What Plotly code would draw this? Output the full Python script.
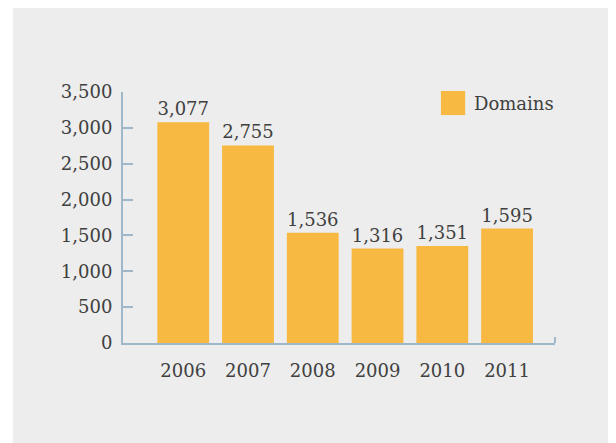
import plotly.graph_objects as go

BG_COLOR = "#ecedec"
BAR_COLOR = "#f7b942"
AXIS_COLOR = "#9fb8c9"
TEXT_COLOR = "#404040"
FONT = "DejaVu Serif"

years = ["2006", "2007", "2008", "2009", "2010", "2011"]
domains = [3077, 2755, 1536, 1316, 1351, 1595]
y_ticks = [0, 500, 1000, 1500, 2000, 2500, 3000, 3500]
series_name = "Domains"

fig = go.Figure()

fig.add_trace(
    go.Bar(
        x=years,
        y=domains,
        name=series_name,
        marker_color=BAR_COLOR,
        marker_line_width=0,
        texttemplate="%{y:,}",
        textposition="outside",
        textfont=dict(family=FONT, size=18, color=TEXT_COLOR),
        cliponaxis=False,
        showlegend=False,
    )
)

# page body has an 8px margin, so the figure is 8px smaller than the window
fig.update_layout(
    width=608,
    height=435,
    margin=dict(l=115, r=61, t=84, b=100),
    paper_bgcolor="white",
    plot_bgcolor="rgba(0, 0, 0, 0)",
    font=dict(family=FONT, size=18, color=TEXT_COLOR),
    bargap=0.2,
    showlegend=False,
    xaxis=dict(
        type="category",
        range=[-0.93, 5.74],
        showline=True,
        linecolor=AXIS_COLOR,
        linewidth=2,
        showgrid=False,
        ticks="",
        ticklabelstandoff=10,
        zeroline=False,
    ),
    yaxis=dict(
        range=[0, 3500],
        tickvals=y_ticks,
        tickformat=",",
        showline=True,
        linecolor=AXIS_COLOR,
        linewidth=2,
        ticks="inside",
        ticklen=10,
        tickwidth=2,
        tickcolor=AXIS_COLOR,
        showgrid=False,
        zeroline=False,
        ticklabelstandoff=5,
    ),
)

# gray panel behind the chart, white strip on the top and left edges
fig.add_shape(
    type="rect", xref="paper", yref="paper",
    x0=-0.255, x1=1.2, y0=-0.45, y1=1.4,
    fillcolor=BG_COLOR, line_width=0, layer="below",
)

# small tick closing the x axis on the right
fig.add_shape(
    type="line", xref="paper", yref="paper",
    x0=1, x1=1, y0=0, y1=0.024,
    line=dict(color=AXIS_COLOR, width=2),
)

# custom legend: big square + label
fig.add_shape(
    type="rect", xref="paper", yref="paper",
    x0=0.736, x1=0.792, y0=0.908, y1=1.004,
    fillcolor=BAR_COLOR, line_width=0,
)
fig.add_annotation(
    text=series_name, xref="paper", yref="paper",
    x=0.808, y=0.956, xanchor="left", yanchor="middle",
    showarrow=False, font=dict(family=FONT, size=18, color=TEXT_COLOR),
)

fig.write_html("out.html")
